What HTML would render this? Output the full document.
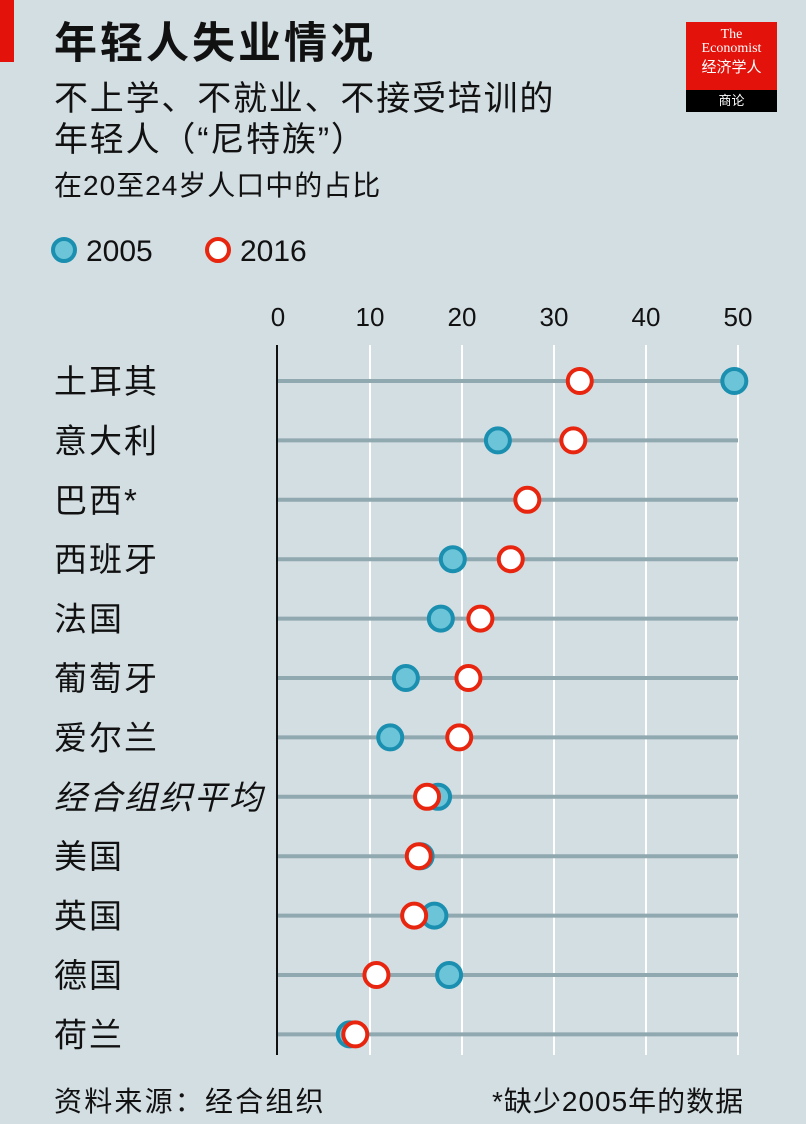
<!DOCTYPE html>
<html><head><meta charset="utf-8"><style>
body{margin:0;width:806px;height:1124px;background:#d3dee3;overflow:hidden;font-family:"Liberation Sans","Noto Sans CJK SC",sans-serif;color:#111;position:relative}
.t{position:absolute;white-space:nowrap}
</style></head><body>
<div style="position:absolute;left:0;top:0;width:14px;height:62px;background:#e3120b"></div>
<div class="t" style="left:54px;top:16px;font-size:43px;line-height:56px;font-weight:bold;letter-spacing:3px">年轻人失业情况</div>
<div class="t" style="left:54px;top:79px;font-size:34px;line-height:41px;letter-spacing:1.8px">不上学、不就业、不接受培训的<br>年轻人（“尼特族”）</div>
<div class="t" style="left:54px;top:168px;font-size:28px;line-height:36px;letter-spacing:1px">在20至24岁人口中的占比</div>
<div style="position:absolute;left:686px;top:22px;width:91px;height:90px">
<div style="height:68px;background:#e3120b;color:#fff;text-align:center;font-family:'Liberation Serif','Noto Serif CJK SC',serif;font-size:14px;line-height:14px;padding-top:6px;box-sizing:border-box">The<br>Economist<div style="font-family:'Noto Sans CJK SC',sans-serif;font-size:15px;line-height:22px">经济学人</div></div>
<div style="height:22px;background:#000;color:#fff;text-align:center;font-size:13px;line-height:22px">商论</div></div>
<svg width="806" height="1124" style="position:absolute;left:0;top:0" id="chart"></svg>
<div class="t" style="left:54px;top:1082px;font-size:28px;line-height:40px;letter-spacing:2.2px">资料来源：经合组织</div>
<div class="t" style="left:492px;top:1082px;font-size:28px;line-height:40px;letter-spacing:1px">*缺少2005年的数据</div>
<script>
const categories=["土耳其","意大利","巴西*","西班牙","法国","葡萄牙","爱尔兰","经合组织平均","美国","英国","德国","荷兰"];
const values2005=[49.6,23.9,null,19.0,17.7,13.9,12.2,17.4,15.5,17.0,18.6,7.8];
const values2016=[32.8,32.1,27.1,25.3,22.0,20.7,19.7,16.2,15.3,14.8,10.7,8.4];
const ticks=[0,10,20,30,40,50];
const ns="http://www.w3.org/2000/svg",svg=document.getElementById('chart');
const x=v=>278+v*9.2, y=i=>381+i*59.4;
function mk(t,a){const e=document.createElementNS(ns,t);for(const k in a)e.setAttribute(k,a[k]);svg.appendChild(e);return e;}
ticks.forEach((t,i)=>{
 if(t>0){const g=mk('line',{x1:x(t),x2:x(t),y1:345,y2:1055,stroke:'#fff','stroke-width':2});
 }
 const l=mk('text',{x:x(t),y:326,'text-anchor':'middle','font-size':26,fill:'#111','font-family':'Liberation Sans, sans-serif'});l.textContent=t;
 
});
categories.forEach((c,i)=>{
 const r=mk('line',{x1:278,x2:738,y1:y(i),y2:y(i),stroke:'#90a8b0','stroke-width':4});
 
 const l=mk('text',{x:54,y:y(i)+12,'font-size':33,'letter-spacing':2,fill:'#111','font-family':'Liberation Sans, Noto Sans CJK SC, sans-serif','font-style':i==7?'italic':'normal'});l.textContent=c;
 
});
const ax=mk('line',{x1:277,x2:277,y1:345,y2:1055,stroke:'#111','stroke-width':2});

categories.forEach((c,i)=>{
 if(values2005[i]!=null){const d=mk('circle',{cx:x(values2005[i]),cy:y(i),r:12,fill:'#6cc4d8',stroke:'#1a8fb0','stroke-width':4});
 }
 const e=mk('circle',{cx:x(values2016[i]),cy:y(i),r:12,fill:'#fff',stroke:'#e8260f','stroke-width':4});
 
});
[[64,'#6cc4d8','#1a8fb0','2005'],[218,'#fff','#e8260f','2016']].forEach(([cx,f,s,t])=>{
 const c=mk('circle',{cx:cx,cy:250,r:11,fill:f,stroke:s,'stroke-width':4});
 
 const l=mk('text',{x:cx+22,y:261,'font-size':30,fill:'#111','font-family':'Liberation Sans, sans-serif'});l.textContent=t;
 
});
</script>
</body></html>
